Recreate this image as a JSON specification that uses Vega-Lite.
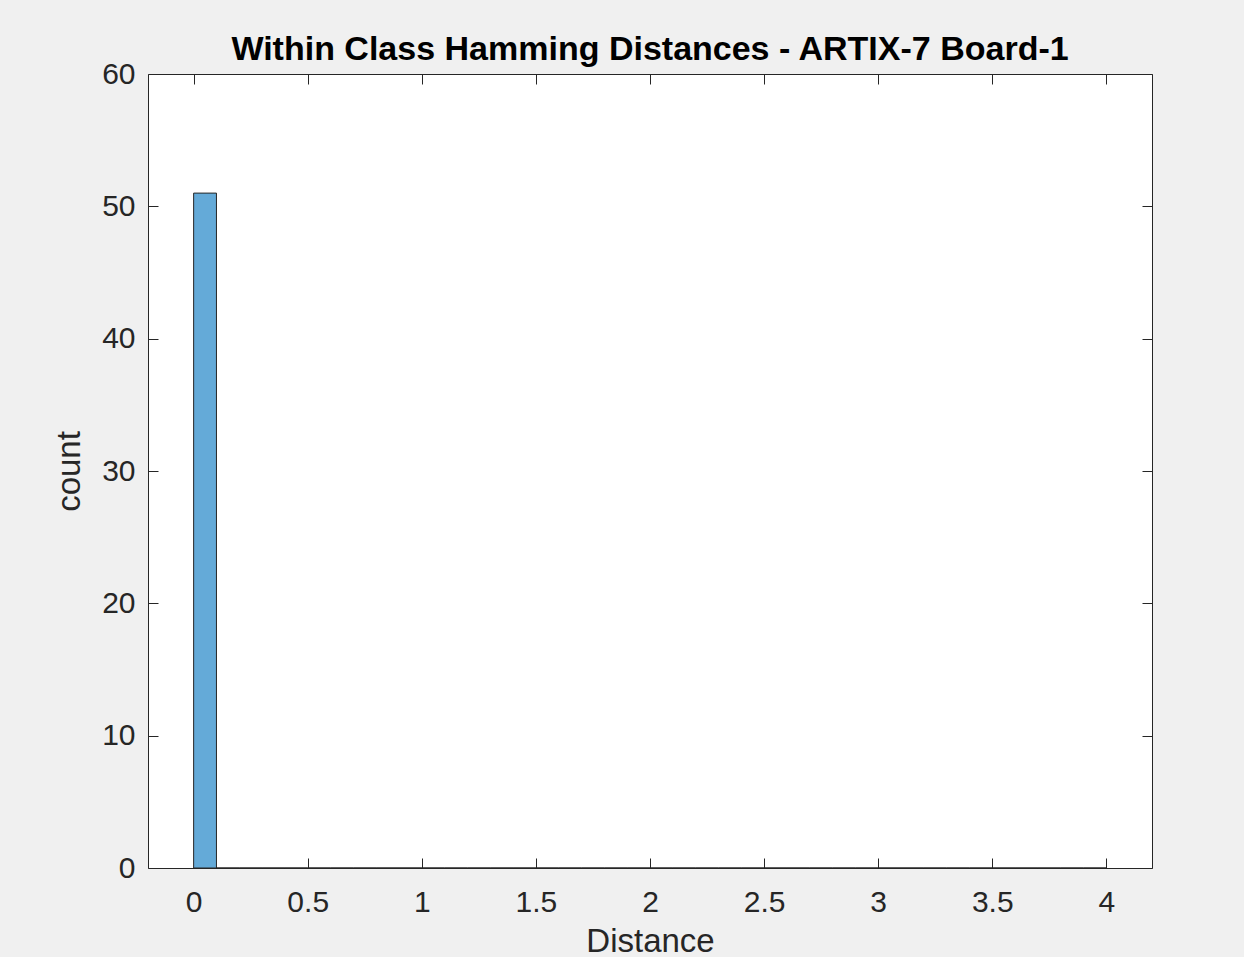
{
  "$schema": "https://vega.github.io/schema/vega-lite/v6.json",
  "autosize": {"type": "none"},
  "width": 1004,
  "height": 794,
  "padding": {"left": 148, "top": 74, "right": 92, "bottom": 89},
  "background": "#f0f0f0",
  "config": {
    "view": {"fill": "white", "stroke": "#262626", "strokeWidth": 1},
    "font": "Liberation Sans",
    "axis": {"grid": false, "domain": false, "tickColor": "#262626", "tickSize": -10, "tickWidth": 1, "labelColor": "#262626", "labelFont": "Liberation Sans", "labelFontSize": 30, "titleFont": "Liberation Sans", "titleFontSize": 33, "titleFontWeight": "normal", "titleColor": "#262626"}
  },
  "title": {"text": "Within Class Hamming Distances - ARTIX-7 Board-1", "fontSize": 34, "fontWeight": "bold", "color": "#000000", "font": "Liberation Sans", "offset": -8, "anchor": "middle"},
  "data": {"values": [
    {"start": 0.0, "end": 0.1, "count": 51},
    {"start": 0.1, "end": 0.2, "count": 0},
    {"start": 0.2, "end": 0.3, "count": 0},
    {"start": 0.3, "end": 0.4, "count": 0},
    {"start": 0.4, "end": 0.5, "count": 0},
    {"start": 0.5, "end": 0.6, "count": 0},
    {"start": 0.6, "end": 0.7, "count": 0},
    {"start": 0.7, "end": 0.8, "count": 0},
    {"start": 0.8, "end": 0.9, "count": 0},
    {"start": 0.9, "end": 1.0, "count": 0},
    {"start": 1.0, "end": 1.1, "count": 0},
    {"start": 1.1, "end": 1.2, "count": 0},
    {"start": 1.2, "end": 1.3, "count": 0},
    {"start": 1.3, "end": 1.4, "count": 0},
    {"start": 1.4, "end": 1.5, "count": 0},
    {"start": 1.5, "end": 1.6, "count": 0},
    {"start": 1.6, "end": 1.7, "count": 0},
    {"start": 1.7, "end": 1.8, "count": 0},
    {"start": 1.8, "end": 1.9, "count": 0},
    {"start": 1.9, "end": 2.0, "count": 0},
    {"start": 2.0, "end": 2.1, "count": 0},
    {"start": 2.1, "end": 2.2, "count": 0},
    {"start": 2.2, "end": 2.3, "count": 0},
    {"start": 2.3, "end": 2.4, "count": 0},
    {"start": 2.4, "end": 2.5, "count": 0},
    {"start": 2.5, "end": 2.6, "count": 0},
    {"start": 2.6, "end": 2.7, "count": 0},
    {"start": 2.7, "end": 2.8, "count": 0},
    {"start": 2.8, "end": 2.9, "count": 0},
    {"start": 2.9, "end": 3.0, "count": 0},
    {"start": 3.0, "end": 3.1, "count": 0},
    {"start": 3.1, "end": 3.2, "count": 0},
    {"start": 3.2, "end": 3.3, "count": 0},
    {"start": 3.3, "end": 3.4, "count": 0},
    {"start": 3.4, "end": 3.5, "count": 0},
    {"start": 3.5, "end": 3.6, "count": 0},
    {"start": 3.6, "end": 3.7, "count": 0},
    {"start": 3.7, "end": 3.8, "count": 0},
    {"start": 3.8, "end": 3.9, "count": 0},
    {"start": 3.9, "end": 4.0, "count": 0}
  ]},
  "layer": [
    {
      "mark": {"type": "bar", "fill": "#64aad8", "stroke": "#262626", "strokeWidth": 1},
      "encoding": {
        "x": {"field": "start", "type": "quantitative", "scale": {"domain": [-0.2, 4.2], "nice": false, "zero": false},
          "axis": {"orient": "bottom", "title": "Distance", "values": [0, 0.5, 1, 1.5, 2, 2.5, 3, 3.5, 4], "format": "~g", "labelPadding": 29, "titlePadding": 8}},
        "x2": {"field": "end"},
        "y": {"field": "count", "type": "quantitative", "scale": {"domain": [0, 60], "nice": false},
          "axis": {"orient": "left", "title": "count", "values": [0, 10, 20, 30, 40, 50, 60], "labelPadding": 23, "titlePadding": 15}},
        "y2": {"datum": 0}
      }
    },
    {
      "mark": {"type": "bar", "fillOpacity": 0, "strokeOpacity": 0},
      "encoding": {
        "x": {"field": "start", "type": "quantitative",
          "axis": {"orient": "top", "title": null, "labels": false, "values": [0, 0.5, 1, 1.5, 2, 2.5, 3, 3.5, 4]}},
        "x2": {"field": "end"},
        "y": {"field": "count", "type": "quantitative",
          "axis": {"orient": "right", "title": null, "labels": false, "values": [0, 10, 20, 30, 40, 50, 60]}},
        "y2": {"datum": 0}
      }
    }
  ],
  "resolve": {"axis": {"x": "independent", "y": "independent"}}
}
